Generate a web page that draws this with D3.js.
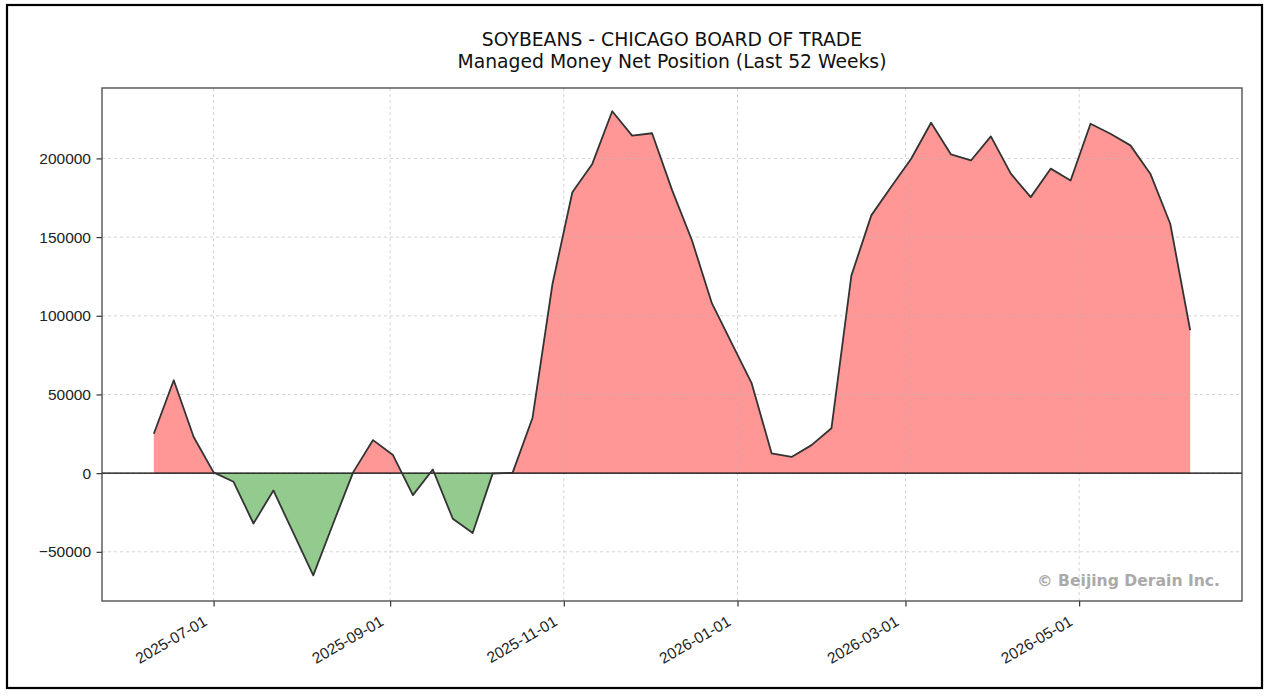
<!DOCTYPE html>
<html>
<head>
<meta charset="utf-8">
<script src="https://cdn.jsdelivr.net/npm/d3@7"></script>
<style>
  html, body { margin: 0; padding: 0; background: #fff; }
  svg { display: block; font-family: "DejaVu Sans", sans-serif; }
</style>
</head>
<body>
<div id="chart"></div>
<script>
// weekly report dates (Tuesdays), first and count
const startDate = "2025-06-10";
const weekCount = 53;

// managed money net position, contracts
const netPosition = [
  25000, 59000, 23000, 500, -5500, -32000, -11000, -38000, -65000, -32000,
  500, 21000, 11500, -14000, 2300, -29000, -38000, -300, 200, 35000,
  120000, 178500, 196500, 230000, 214500, 216000, 180000, 148000, 108000, 82500,
  57000, 12500, 10300, 17800, 28500, 125500, 163800, 182000, 199800, 222700,
  202500, 198700, 214000, 190300, 175400, 193500, 186000, 222000, 215700, 208300,
  190300, 158500, 90800
];

const yTicks = [-50000, 0, 50000, 100000, 150000, 200000];
const titleLines = ["SOYBEANS - CHICAGO BOARD OF TRADE", "Managed Money Net Position (Last 52 Weeks)"];
const watermark = "\u00a9 Beijing Derain Inc.";

const parse = d3.utcParse("%Y-%m-%d");
const dates = d3.range(weekCount).map((i) => d3.utcDay.offset(parse(startDate), i * 7));
const data = dates.map((d, i) => ({ date: d, value: netPosition[i] }));

const size = { width: 1271, height: 698 };
const margin = { top: 88, right: 29, bottom: 97, left: 102 };

const svg = d3.select("#chart").append("svg")
  .attr("width", size.width)
  .attr("height", size.height);

// outer frame
svg.append("rect")
  .attr("x", 7).attr("y", 5)
  .attr("width", 1255).attr("height", 683)
  .attr("fill", "#fff")
  .attr("stroke", "#000")
  .attr("stroke-width", 2.2);

// matplotlib style 5% margins round the data
const span = d3.extent(dates);
const pad = (span[1] - span[0]) * 0.05;
const x = d3.scaleUtc()
  .domain([new Date(+span[0] - pad), new Date(+span[1] + pad)])
  .range([margin.left, size.width - margin.right]);

const vExt = d3.extent(netPosition);
const vPad = (vExt[1] - vExt[0]) * 0.05;
const y = d3.scaleLinear()
  .domain([vExt[0] - vPad - 1500, vExt[1] + vPad])
  .range([size.height - margin.bottom, margin.top]);

const plotW = size.width - margin.right - margin.left;
const plotH = size.height - margin.bottom - margin.top;

// split at zero crossings so the fills meet on the axis
const pts = [];
data.forEach((d, i) => {
  if (i > 0) {
    const p = data[i - 1];
    if ((p.value < 0 && d.value > 0) || (p.value > 0 && d.value < 0)) {
      const t = p.value / (p.value - d.value);
      pts.push({ date: new Date(+p.date + t * (d.date - p.date)), value: 0 });
    }
  }
  pts.push(d);
});

const posArea = d3.area()
  .x((d) => x(d.date))
  .y0(y(0))
  .y1((d) => y(Math.max(0, d.value)));

const negArea = d3.area()
  .x((d) => x(d.date))
  .y0(y(0))
  .y1((d) => y(Math.min(0, d.value)));

svg.append("path")
  .datum(pts)
  .attr("d", posArea)
  .attr("fill", "#ff9796");

svg.append("path")
  .datum(pts)
  .attr("d", negArea)
  .attr("fill", "#93cb8e");

// grid over the fills
const grid = svg.append("g")
  .attr("stroke", "#b8b8b8")
  .attr("stroke-opacity", 0.6)
  .attr("stroke-dasharray", "3,3")
  .attr("stroke-width", 1);

const xTicks = x.ticks(d3.utcMonth.every(2));

grid.selectAll(".gx").data(xTicks).join("line")
  .attr("x1", (d) => x(d)).attr("x2", (d) => x(d))
  .attr("y1", margin.top).attr("y2", margin.top + plotH);

grid.selectAll(".gy").data(yTicks).join("line")
  .attr("x1", margin.left).attr("x2", margin.left + plotW)
  .attr("y1", (d) => y(d)).attr("y2", (d) => y(d));

// zero line
svg.append("line")
  .attr("x1", margin.left).attr("x2", margin.left + plotW)
  .attr("y1", y(0)).attr("y2", y(0))
  .attr("stroke", "#000")
  .attr("stroke-width", 1.2);

const line = d3.line()
  .x((d) => x(d.date))
  .y((d) => y(d.value));

svg.append("path")
  .datum(data)
  .attr("d", line)
  .attr("fill", "none")
  .attr("stroke", "#333")
  .attr("stroke-width", 1.8)
  .attr("stroke-linejoin", "round");

// axes
const xAxis = svg.append("g")
  .attr("transform", `translate(0,${margin.top + plotH})`)
  .call(d3.axisBottom(x).tickValues(xTicks).tickFormat(d3.utcFormat("%Y-%m-%d")).tickSize(5.5).tickSizeOuter(0));

xAxis.select(".domain").remove();
xAxis.selectAll("line").attr("stroke", "#333").attr("stroke-width", 1.2);
xAxis.selectAll("text")
  .attr("fill", "#222")
  .style("font-size", "15.5px")
  .attr("text-anchor", "end")
  .attr("dy", null)
  .attr("y", null)
  .attr("transform", "translate(-8,20) rotate(-30)")
  .attr("dominant-baseline", "middle");

const yAxis = svg.append("g")
  .attr("transform", `translate(${margin.left},0)`)
  .call(d3.axisLeft(y).tickValues(yTicks).tickFormat(d3.format("d")).tickSize(5.5).tickSizeOuter(0));

yAxis.select(".domain").remove();
yAxis.selectAll("line").attr("stroke", "#333").attr("stroke-width", 1.2);
yAxis.selectAll("text")
  .attr("fill", "#222")
  .style("font-size", "15.5px")
  .attr("x", -11);

// spines
svg.append("rect")
  .attr("x", margin.left).attr("y", margin.top)
  .attr("width", plotW).attr("height", plotH)
  .attr("fill", "none")
  .attr("stroke", "#444")
  .attr("stroke-width", 1.3);

// titles
svg.selectAll(".title").data(titleLines).join("text")
  .attr("x", margin.left + plotW / 2)
  .attr("y", (d, i) => 45.5 + i * 22.5)
  .attr("text-anchor", "middle")
  .attr("fill", "#111")
  .style("font-size", "18.75px")
  .text((d) => d);

svg.append("text")
  .attr("x", margin.left + plotW - 22)
  .attr("y", 586)
  .attr("text-anchor", "end")
  .attr("fill", "#aaa")
  .style("font-size", "15.6px")
  .style("font-weight", "bold")
  .text(watermark);
</script>
</body>
</html>
